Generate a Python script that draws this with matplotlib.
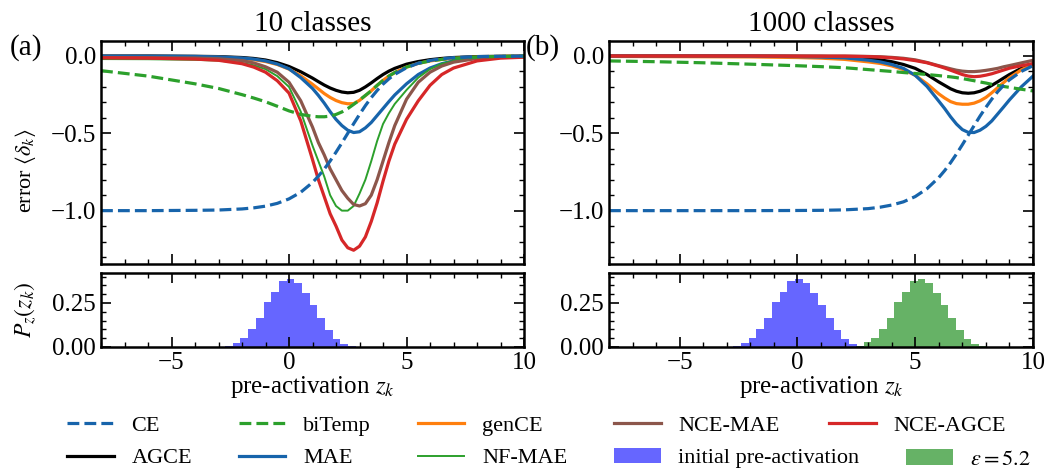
import numpy as np
import matplotlib
matplotlib.use("Agg")
import matplotlib.pyplot as plt
from matplotlib.patches import Patch
from matplotlib.lines import Line2D
from matplotlib.ticker import MultipleLocator

plt.rcParams['font.family'] = ['Liberation Serif', 'DejaVu Serif']
plt.rcParams['mathtext.fontset'] = 'stix'

# ---- data ----
# 10 classes (panel a)
z_a = [-8, -6, -4, -3, -2, -1.5, -1, -0.5, 0, 0.5, 1, 1.25, 1.5, 1.75, 2, 2.25, 2.5,
       2.75, 3, 3.25, 3.5, 3.75, 4, 4.25, 4.5, 5, 5.5, 6, 6.5, 7, 8, 9, 10]
ce_a = [-1.0, -1.0, -0.998, -0.996, -0.989, -0.982, -0.971, -0.953, -0.924, -0.881, -0.818,
        -0.777, -0.731, -0.679, -0.622, -0.562, -0.5, -0.438, -0.378, -0.321, -0.269, -0.223,
        -0.182, -0.148, -0.119, -0.076, -0.047, -0.029, -0.018, -0.011, -0.004, -0.002, -0.001]
bitemp_a = [-0.095, -0.13, -0.18, -0.21, -0.25, -0.272, -0.296, -0.325, -0.355, -0.378, -0.39,
            -0.393, -0.393, -0.389, -0.378, -0.362, -0.34, -0.313, -0.285, -0.255, -0.225, -0.19,
            -0.158, -0.13, -0.107, -0.072, -0.048, -0.032, -0.022, -0.015, -0.007, -0.003, -0.001]
gence_a = [-0.002, -0.003, -0.005, -0.008, -0.016, -0.024, -0.036, -0.055, -0.085, -0.128, -0.183,
           -0.213, -0.243, -0.268, -0.288, -0.302, -0.309, -0.308, -0.287, -0.256, -0.225, -0.19,
           -0.158, -0.13, -0.107, -0.072, -0.048, -0.032, -0.022, -0.015, -0.007, -0.003, -0.001]
agce_a = [0.0, 0.0, -0.002, -0.004, -0.01, -0.016, -0.026, -0.043, -0.068, -0.102, -0.143,
          -0.166, -0.188, -0.207, -0.222, -0.233, -0.238, -0.235, -0.222, -0.2, -0.174, -0.146,
          -0.12, -0.098, -0.08, -0.053, -0.036, -0.024, -0.016, -0.01, -0.004, -0.002, -0.001]
mae_a = [0.0, -0.001, -0.003, -0.006, -0.013, -0.02, -0.032, -0.052, -0.083, -0.14, -0.21,
         -0.255, -0.305, -0.36, -0.41, -0.45, -0.48, -0.495, -0.49, -0.465, -0.43, -0.385,
         -0.34, -0.295, -0.252, -0.18, -0.12, -0.078, -0.05, -0.032, -0.013, -0.005, -0.002]
nfmae_a = [-0.02, -0.021, -0.025, -0.03, -0.045, -0.06, -0.085, -0.13, -0.2, -0.36, -0.58,
           -0.68, -0.78, -0.9, -0.97, -1.0, -1.0, -0.97, -0.89, -0.8, -0.68, -0.55,
           -0.44, -0.37, -0.31, -0.22, -0.14, -0.085, -0.05, -0.032, -0.012, -0.005, -0.002]
ncemae_a = [-0.01, -0.011, -0.013, -0.018, -0.03, -0.045, -0.07, -0.105, -0.17, -0.29, -0.46,
            -0.56, -0.64, -0.73, -0.8, -0.87, -0.92, -0.96, -0.97, -0.955, -0.9, -0.8,
            -0.68, -0.56, -0.45, -0.28, -0.17, -0.105, -0.065, -0.04, -0.016, -0.006, -0.002]
nceagce_a = [-0.012, -0.014, -0.02, -0.028, -0.05, -0.072, -0.105, -0.16, -0.24, -0.42, -0.67,
             -0.8, -0.91, -1.02, -1.1, -1.19, -1.24, -1.256, -1.23, -1.17, -1.07, -0.95,
             -0.81, -0.68, -0.57, -0.41, -0.29, -0.19, -0.12, -0.078, -0.032, -0.014, -0.008]

# 1000 classes (panel b)
z_b = [-8, -6, -4, -2, 0, 1, 2, 3, 3.5, 4, 4.5, 5, 5.5, 6, 6.25, 6.5, 6.75, 7, 7.25,
       7.5, 7.75, 8, 8.25, 8.5, 8.75, 9, 9.5, 10]
ce_b = [-1.0, -1.0, -1.0, -1.0, -0.999, -0.998, -0.995, -0.987, -0.978, -0.964, -0.943, -0.909,
        -0.858, -0.786, -0.741, -0.69, -0.634, -0.574, -0.512, -0.45, -0.389, -0.332, -0.279,
        -0.231, -0.19, -0.154, -0.1, -0.063]
bitemp_b = [-0.032, -0.037, -0.044, -0.053, -0.063, -0.069, -0.076, -0.088, -0.094, -0.1, -0.107,
            -0.113, -0.12, -0.127, -0.131, -0.135, -0.14, -0.146, -0.153, -0.16, -0.168, -0.175,
            -0.183, -0.19, -0.197, -0.203, -0.215, -0.226]
gence_b = [-0.003, -0.004, -0.005, -0.006, -0.01, -0.014, -0.022, -0.038, -0.048, -0.064, -0.088,
           -0.125, -0.18, -0.245, -0.272, -0.295, -0.308, -0.312, -0.312, -0.305, -0.29, -0.268,
           -0.238, -0.205, -0.172, -0.14, -0.09, -0.054]
agce_b = [0.0, 0.0, 0.0, -0.001, -0.002, -0.003, -0.006, -0.017, -0.025, -0.037, -0.055, -0.08,
          -0.12, -0.168, -0.19, -0.212, -0.228, -0.238, -0.241, -0.238, -0.228, -0.212, -0.19,
          -0.167, -0.143, -0.12, -0.08, -0.05]
mae_b = [0.0, 0.0, 0.0, -0.001, -0.004, -0.007, -0.012, -0.027, -0.038, -0.055, -0.08, -0.125,
         -0.197, -0.292, -0.34, -0.393, -0.44, -0.476, -0.494, -0.495, -0.48, -0.455, -0.42,
         -0.375, -0.33, -0.284, -0.2, -0.13]
ncemae_b = [0.0, 0.0, 0.0, 0.0, -0.001, -0.001, -0.001, -0.003, -0.005, -0.009, -0.015, -0.025,
            -0.042, -0.063, -0.073, -0.083, -0.092, -0.098, -0.101, -0.101, -0.098, -0.093,
            -0.087, -0.08, -0.07, -0.062, -0.045, -0.028]
nceagce_b = [0.0, 0.0, 0.0, 0.0, -0.001, -0.001, -0.001, -0.004, -0.007, -0.012, -0.019, -0.03,
             -0.044, -0.066, -0.078, -0.092, -0.106, -0.12, -0.13, -0.134, -0.131, -0.124,
             -0.115, -0.103, -0.091, -0.079, -0.063, -0.05]

# histograms of pre-activations
hist_lo, hist_hi = -2.72, 2.84
eps_shift = 5.2
init_heights = [0.003, 0.024, 0.052, 0.10, 0.163, 0.257, 0.313, 0.374, 0.385, 0.363,
                0.307, 0.237, 0.163, 0.096, 0.046, 0.019, 0.006]
eps_heights = [0.006, 0.026, 0.052, 0.10, 0.163, 0.257, 0.313, 0.374, 0.385, 0.363,
               0.307, 0.237, 0.163, 0.096, 0.046, 0.019, 0.006]

# ---- styles ----
c_blue = '#1764ab'
c_green = '#2ca02c'
c_orange = '#ff7f0e'
c_brown = '#8c564b'
c_red = '#d62728'
lw = 2.3

fig = plt.figure(figsize=(10.48, 4.71), dpi=100)
ax_a = fig.add_axes([0.0964, 0.4395, 0.4036, 0.4735])
ax_a2 = fig.add_axes([0.0964, 0.2633, 0.4036, 0.1571])
ax_b = fig.add_axes([0.5811, 0.4395, 0.4046, 0.4735])
ax_b2 = fig.add_axes([0.5811, 0.2633, 0.4046, 0.1571])


def curves(ax, z, ce, bitemp, gence, agce, mae, ncemae, nceagce, nfmae=None):
    ax.plot(z, agce, color='black', lw=lw)
    ax.plot(z, gence, color=c_orange, lw=lw)
    ax.plot(z, mae, color=c_blue, lw=lw)
    if nfmae is not None:
        ax.plot(z, nfmae, color=c_green, lw=1.4)
    ax.plot(z, ncemae, color=c_brown, lw=lw)
    ax.plot(z, nceagce, color=c_red, lw=lw)
    ax.plot(z, bitemp, color=c_green, lw=lw, ls='--')
    ax.plot(z, ce, color=c_blue, lw=lw, ls='--')


curves(ax_a, z_a, ce_a, bitemp_a, gence_a, agce_a, mae_a, ncemae_a, nceagce_a, nfmae_a)
curves(ax_b, z_b, ce_b, bitemp_b, gence_b, agce_b, mae_b, ncemae_b, nceagce_b)

edges = np.linspace(hist_lo, hist_hi, len(init_heights) + 1)
for ax in (ax_a2, ax_b2):
    ax.bar(edges[:-1], init_heights, width=np.diff(edges), align='edge',
           color='blue', alpha=0.6, lw=0)
ax_b2.bar(edges[:-1] + eps_shift, eps_heights, width=np.diff(edges), align='edge',
          color='green', alpha=0.6, lw=0)

for ax in (ax_a, ax_b):
    ax.set_xlim(-8, 10)
    ax.set_ylim(-1.345, 0.097)
    ax.set_yticks([0, -0.5, -1.0])
    ax.yaxis.set_minor_locator(MultipleLocator(0.1))
    ax.tick_params(labelbottom=False)
for ax in (ax_a2, ax_b2):
    ax.set_xlim(-8, 10)
    ax.set_ylim(0, 0.42)
    ax.set_yticks([0, 0.25])
    ax.set_yticklabels(['0.00', '0.25'])
    ax.yaxis.set_minor_locator(MultipleLocator(0.05))
    ax.set_xlabel(r'pre-activation $z_k$', fontsize=18, labelpad=0)
for ax in (ax_a, ax_b, ax_a2, ax_b2):
    ax.xaxis.set_major_locator(MultipleLocator(5))
    ax.xaxis.set_minor_locator(MultipleLocator(1))
    ax.tick_params(which='both', direction='in', top=True, right=True, labelsize=18)
    ax.tick_params(which='major', length=7, width=1.2)
    ax.tick_params(which='minor', length=3.5, width=1.0)
    for s in ax.spines.values():
        s.set_linewidth(1.8)

ax_a.set_title('10 classes', fontsize=21, pad=7)
ax_b.set_title('1000 classes', fontsize=21, pad=7)
fig.text(0.009, 0.90, '(a)', fontsize=21, va='center')
fig.text(0.502, 0.90, '(b)', fontsize=21, va='center')
fig.text(0.024, 0.637, r'error $\langle\delta_k\rangle$', fontsize=16,
         rotation=90, ha='center', va='center')
fig.text(0.024, 0.342, r'$P_z(z_k)$', fontsize=17, rotation=90, ha='center', va='center')

# legend: four aligned columns, plus two entries placed on their own
leg_kw = dict(frameon=False, fontsize=16, handlelength=2.1, handletextpad=0.8,
              borderpad=0, borderaxespad=0, labelspacing=0.55)
main_handles = [
    Line2D([], [], color=c_blue, lw=lw, ls='--'),
    Line2D([], [], color='black', lw=lw),
    Line2D([], [], color=c_green, lw=lw, ls='--'),
    Line2D([], [], color=c_blue, lw=lw),
    Line2D([], [], color=c_orange, lw=lw),
    Line2D([], [], color=c_green, lw=1.4),
    Line2D([], [], color=c_brown, lw=lw),
    Patch(color='blue', alpha=0.6, lw=0),
]
main_labels = ['CE', 'AGCE', 'biTemp', 'MAE', 'genCE', 'NF-MAE', 'NCE-MAE',
               'initial pre-activation']
leg1 = fig.legend(main_handles, main_labels, loc='upper left', bbox_to_anchor=(0.064, 0.119),
                  ncol=4, columnspacing=2.1, **leg_kw)
leg2 = fig.legend([Line2D([], [], color=c_red, lw=lw)], ['NCE-AGCE'], loc='upper left',
                  bbox_to_anchor=(0.791, 0.119), **leg_kw)
leg3 = fig.legend([Patch(color='green', alpha=0.6, lw=0)], [r'$\varepsilon=5.2$'],
                  loc='upper left', bbox_to_anchor=(0.8645, 0.0467), **leg_kw)

fig.savefig('out.png', dpi=100)
